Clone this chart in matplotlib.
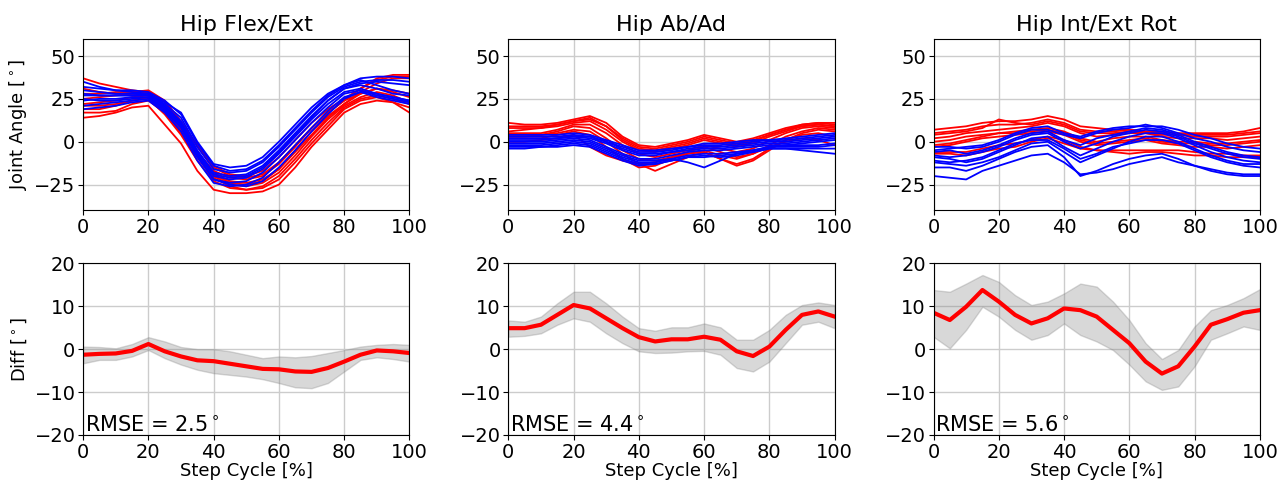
import numpy as np
import matplotlib
matplotlib.use("Agg")
import matplotlib.pyplot as plt

# step cycle grid (%)
step = np.arange(0, 101, 5)

titles = ["Hip Flex/Ext", "Hip Ab/Ad", "Hip Int/Ext Rot"]
rmse = [2.5, 4.4, 5.6]

# ---- top row: joint angle curves (red / blue trials) ----
flex_red = [
    [37, 34, 32, 30, 29, 21, 9, -6, -17, -21, -22, -20, -13, -3, 8, 17, 24, 31, 37, 39, 39],
    [14, 15, 17, 20, 21, 10, -1, -17, -28, -30, -30, -29, -25, -15, -3, 7, 17, 22, 24, 23, 20],
    [19, 19, 21, 24, 25, 16, 4, -11, -23, -27, -28, -26, -20, -10, 1, 11, 20, 25, 27, 25, 22],
    [25, 26, 27, 28, 28, 20, 8, -6, -18, -23, -24, -22, -16, -6, 4, 14, 22, 29, 34, 37, 37],
    [17, 17, 18, 22, 24, 17, 5, -9, -21, -26, -28, -27, -22, -12, -1, 9, 19, 24, 26, 23, 17],
    [31, 29, 28, 28, 29, 23, 11, -3, -15, -20, -21, -19, -12, -2, 8, 17, 24, 28, 31, 29, 26],
    [22, 23, 24, 26, 27, 19, 7, -8, -20, -25, -26, -24, -18, -8, 3, 13, 21, 26, 29, 27, 23],
    [28, 28, 29, 29, 30, 24, 12, -2, -14, -19, -20, -17, -9, 1, 11, 19, 25, 31, 36, 38, 38],
    [21, 21, 22, 24, 26, 18, 6, -7, -19, -24, -25, -23, -16, -5, 6, 15, 22, 28, 31, 30, 28],
]
flex_blue = [
    [35, 32, 30, 29, 28, 23, 17, 0, -13, -15, -14, -9, 0, 10, 20, 28, 33, 37, 38, 38, 37],
    [30, 29, 28, 28, 28, 22, 14, -3, -16, -18, -17, -12, -3, 7, 17, 26, 32, 35, 36, 36, 35],
    [27, 27, 27, 27, 27, 21, 12, -5, -18, -20, -19, -14, -5, 5, 15, 24, 31, 33, 31, 28, 27],
    [24, 25, 25, 26, 26, 20, 10, -7, -20, -22, -21, -16, -7, 3, 13, 22, 29, 31, 28, 26, 24],
    [21, 22, 23, 24, 25, 18, 8, -9, -22, -24, -23, -18, -9, 1, 11, 20, 28, 30, 27, 25, 23],
    [28, 27, 27, 27, 28, 21, 11, -6, -19, -21, -20, -15, -6, 4, 14, 24, 31, 34, 35, 34, 33],
    [19, 20, 21, 23, 24, 17, 6, -11, -24, -26, -25, -21, -12, -2, 8, 18, 26, 29, 26, 24, 22],
    [25, 24, 24, 25, 26, 19, 9, -8, -22, -25, -26, -23, -15, -5, 6, 16, 25, 29, 28, 26, 24],
    [32, 31, 30, 30, 29, 24, 16, -1, -14, -17, -16, -11, -2, 8, 18, 27, 33, 36, 33, 30, 28],
]

abad_red = [
    [11, 10, 10, 11, 13, 15, 11, 3, -2, -3, -1, 1, 4, 2, 0, 2, 5, 8, 10, 11, 11],
    [8, 8, 8, 9, 11, 12, 7, 0, -5, -6, -4, -2, 1, -1, -3, -1, 3, 6, 9, 10, 9],
    [5, 5, 5, 7, 10, 10, 5, -2, -7, -9, -7, -5, -2, -4, -6, -4, 1, 5, 8, 9, 8],
    [3, 3, 4, 6, 9, 8, 2, -5, -10, -11, -9, -7, -5, -8, -10, -7, -2, 3, 6, 8, 7],
    [2, 2, 2, 4, 6, 4, -3, -10, -15, -14, -10, -7, -6, -10, -14, -11, -5, 1, 5, 7, 6],
    [6, 7, 8, 10, 12, 14, 9, 1, -4, -5, -3, -1, 2, 0, -2, 0, 4, 7, 10, 11, 10],
    [4, 4, 4, 5, 7, 6, 0, -7, -13, -17, -13, -9, -6, -10, -13, -10, -4, 1, 4, 5, 3],
    [0, 0, 1, 2, 4, -3, -8, -11, -13, -12, -9, -6, -3, -6, -9, -7, -3, 0, 2, 1, -2],
    [9, 9, 9, 10, 12, 13, 9, 2, -3, -4, -2, 0, 3, 1, -1, 1, 4, 7, 9, 10, 9],
]
abad_blue = [
    [4, 4, 4, 4, 5, 4, 1, -2, -5, -5, -4, -3, -1, -1, 0, 1, 1, 2, 3, 4, 5],
    [2, 2, 2, 2, 3, 2, -1, -5, -8, -8, -6, -4, -3, -3, -2, -1, 0, 0, 1, 2, 3],
    [0, 0, 0, 1, 2, 1, -3, -7, -10, -10, -8, -6, -5, -5, -4, -3, -2, -2, -1, 0, 1],
    [-2, -2, -2, -1, 0, -1, -5, -9, -12, -12, -10, -8, -7, -7, -6, -5, -3, -3, -3, -3, -2],
    [-4, -4, -3, -3, -2, -3, -7, -11, -14, -13, -11, -9, -9, -8, -7, -6, -4, -4, -5, -6, -7],
    [1, 1, 1, 2, 3, 3, 0, -4, -7, -7, -6, -5, -4, -4, -3, -2, -1, -1, 0, 1, 2],
    [-1, -1, -1, 0, 1, 0, -4, -8, -11, -11, -10, -12, -15, -11, -7, -5, -3, -2, -2, -2, -1],
    [-3, -3, -3, -2, -1, -2, -6, -10, -13, -13, -11, -9, -8, -9, -8, -6, -4, -4, -4, -4, -4],
    [3, 3, 3, 3, 4, 3, 0, -3, -6, -6, -5, -3, -2, -2, -1, 0, 1, 1, 2, 3, 4],
]

rot_red = [
    [7, 8, 9, 11, 12, 12, 13, 15, 13, 9, 8, 7, 7, 6, 6, 5, 5, 5, 5, 6, 8],
    [4, 5, 6, 8, 13, 11, 10, 12, 10, 6, 5, 5, 6, 5, 4, 4, 3, 3, 3, 4, 5],
    [2, 3, 5, 6, 7, 8, 9, 11, 9, 5, 3, 4, 5, 5, 3, 2, 2, 2, 1, 2, 3],
    [0, 1, 3, 4, 5, 6, 7, 8, 6, 2, 0, 2, 3, 3, 1, 0, 0, -1, -1, 0, 1],
    [-3, -2, 0, 2, 3, 4, 5, 6, 4, 0, -2, -1, 0, 1, -1, -2, -3, -3, -4, -3, -2],
    [-6, -6, -6, -4, -2, -1, 1, 3, 1, -3, -5, -5, -5, -5, -5, -5, -6, -7, -7, -8, -8],
    [5, 6, 7, 9, 10, 10, 11, 13, 11, 7, 6, 6, 7, 6, 5, 4, 4, 4, 4, 5, 6],
    [-2, -1, 1, 3, 5, 5, 6, 7, 5, 1, -1, 0, 1, 2, 0, -1, -1, -2, -2, -1, 0],
    [-7, -7, -8, -6, -4, -3, 0, 2, -1, -4, -5, -6, -7, -6, -6, -7, -8, -8, -9, -9, -9],
]
rot_blue = [
    [-3, -3, -4, -3, 0, 4, 7, 7, 4, 2, 5, 7, 8, 10, 8, 5, 2, 0, -3, -5, -6],
    [-6, -5, -7, -5, -2, 2, 5, 6, 1, -2, 2, 4, 6, 8, 7, 4, 0, -3, -6, -8, -9],
    [-9, -10, -12, -10, -6, -2, 2, 3, -3, -8, -4, 0, 3, 5, 5, 2, -2, -6, -9, -11, -12],
    [-12, -13, -14, -12, -9, -5, -1, 0, -6, -12, -8, -4, 0, 3, 3, 0, -4, -8, -11, -13, -13],
    [-20, -21, -22, -17, -14, -11, -8, -7, -12, -19, -18, -16, -13, -11, -9, -12, -14, -16, -18, -19, -19],
    [-8, -9, -8, -6, -3, 1, 4, 5, 0, -4, -1, 3, 5, 7, 6, 3, -1, -4, -7, -9, -10],
    [-15, -15, -17, -14, -10, -6, -3, -2, -9, -20, -17, -13, -10, -8, -7, -10, -14, -17, -19, -20, -20],
    [-11, -12, -11, -9, -5, -1, 1, 1, -4, -10, -7, -3, -1, 1, 1, -1, -5, -9, -12, -14, -15],
    [-5, -4, -3, -2, 1, 5, 8, 9, 5, 3, 6, 8, 9, 9, 9, 7, 4, 2, -1, -3, -4],
]

# ---- bottom row: mean difference and spread ----
flex_diff = [-1.3, -1.1, -1.0, -0.4, 1.2, -0.5, -1.7, -2.6, -2.8, -3.4, -4.0, -4.6, -4.7, -5.2, -5.3, -4.4, -2.9, -1.3, -0.3, -0.5, -0.9]
flex_hi = [0.6, 0.5, 0.2, 1.2, 2.8, 1.8, 0.5, 0.0, 0.0, -0.5, -1.3, -2.1, -1.7, -1.9, -1.6, -0.9, -0.2, 0.6, 1.0, 1.2, 1.0]
flex_lo = [-3.3, -2.5, -2.5, -1.7, -0.2, -2.1, -3.6, -4.8, -5.6, -6.0, -6.4, -7.0, -7.9, -8.9, -9.1, -7.9, -5.2, -2.5, -1.9, -2.3, -2.9]

abad_diff = [4.9, 4.9, 5.7, 8.0, 10.3, 9.5, 7.2, 4.9, 2.8, 1.8, 2.3, 2.3, 2.9, 2.2, -0.5, -1.6, 0.6, 4.5, 8.0, 8.8, 7.6]
abad_hi = [6.7, 6.4, 7.6, 10.7, 13.4, 13.4, 10.7, 7.6, 4.9, 4.3, 5.1, 5.1, 6.0, 5.1, 2.2, 2.2, 4.5, 8.0, 10.3, 10.9, 10.3]
abad_lo = [2.9, 3.1, 3.7, 5.7, 7.2, 6.4, 3.7, 1.4, -0.5, -0.9, -0.8, -0.5, -0.4, -1.3, -4.4, -5.2, -2.9, 1.4, 5.7, 6.4, 4.9]

rot_diff = [8.5, 6.8, 9.9, 13.8, 11.1, 8.0, 6.0, 7.2, 9.5, 9.1, 7.6, 4.5, 1.4, -2.9, -5.7, -4.0, 0.6, 5.7, 7.0, 8.5, 9.1]
rot_hi = [13.8, 13.4, 15.3, 17.3, 15.7, 12.6, 10.3, 11.1, 13.0, 15.3, 14.6, 11.1, 6.8, 1.4, -2.3, -0.2, 5.3, 9.1, 10.3, 11.9, 14.0]
rot_lo = [2.9, 0.2, 4.5, 9.9, 7.6, 4.5, 2.2, 3.3, 6.0, 3.3, 1.8, -0.2, -3.6, -7.5, -9.5, -8.7, -4.0, 2.2, 3.7, 5.3, 4.5]

top_red = [flex_red, abad_red, rot_red]
top_blue = [flex_blue, abad_blue, rot_blue]
diffs = [flex_diff, abad_diff, rot_diff]
his = [flex_hi, abad_hi, rot_hi]
los = [flex_lo, abad_lo, rot_lo]

plt.rcParams['font.size'] = 14

fig, axes = plt.subplots(2, 3, figsize=(12.79, 4.8), dpi=100)
plt.subplots_adjust(left=0.065, right=0.985, top=0.919, bottom=0.094, wspace=0.303, hspace=0.31)

for i in range(3):
    ax = axes[0, i]
    for c in top_red[i]:
        ax.plot(step, c, color='red', lw=1.3)
    for c in top_blue[i]:
        ax.plot(step, c, color='blue', lw=1.3)
    ax.set_xlim(0, 100)
    ax.set_ylim(-40, 60)
    ax.set_yticks([-25, 0, 25, 50])
    ax.set_xticks([0, 20, 40, 60, 80, 100])
    ax.tick_params(labelsize=14, pad=2)
    ax.grid(True, color='#cccccc', lw=1)
    ax.set_axisbelow(True)
    ax.set_title(titles[i], fontsize=16)

    ax = axes[1, i]
    ax.fill_between(step, los[i], his[i], color='gray', alpha=0.3)
    ax.plot(step, diffs[i], color='red', lw=3)
    ax.set_xlim(0, 100)
    ax.set_ylim(-20, 20)
    ax.set_yticks([-20, -10, 0, 10, 20])
    ax.set_xticks([0, 20, 40, 60, 80, 100])
    ax.tick_params(labelsize=14, pad=2)
    ax.grid(True, color='#cccccc', lw=1)
    ax.set_axisbelow(True)
    ax.text(0.5, -19, "RMSE = %.1f$^\\circ$" % rmse[i], fontsize=15, va='baseline')
    ax.set_xlabel("Step Cycle [%]", fontsize=13, labelpad=0)

axes[0, 0].set_ylabel("Joint Angle [$^\\circ$]", fontsize=13)
axes[1, 0].set_ylabel("Diff [$^\\circ$]", fontsize=13)

plt.savefig("out.png")
